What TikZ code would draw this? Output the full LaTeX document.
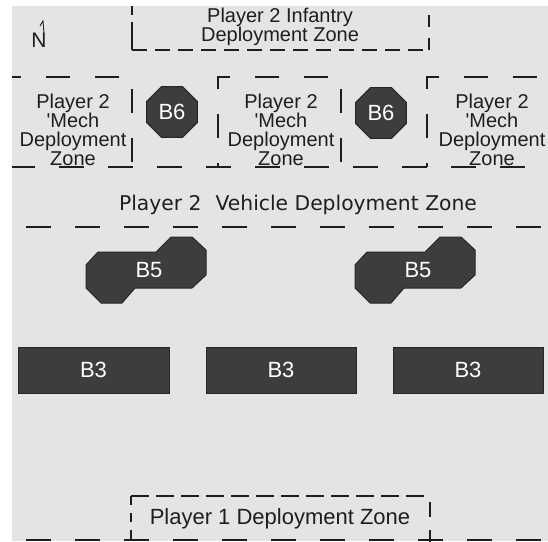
\documentclass[tikz,border=0pt]{standalone}
\usepackage{fontspec}
\setmainfont{Liberation Sans}
\newfontfamily\vehfont{DejaVu Sans}
\usetikzlibrary{shapes.geometric}
\definecolor{bg}{HTML}{E4E4E4}
\definecolor{blk}{HTML}{3D3D3D}
\definecolor{ink}{HTML}{1E1E1E}
\newcommand\sq{\XeTeXglyph\XeTeXcharglyph"27\relax}
\begin{document}
\begin{tikzpicture}[x=1pt,y=-1pt,
  rowline/.style={draw=ink, line width=1.3pt, dash pattern=on 25pt off 24pt},
  zone/.style={draw=ink, line width=1.2pt, dash pattern=on 24pt off 25pt},
  bldg/.style={fill=blk, draw=black!85, line width=1pt},
  lab/.style={text=ink, font=\fontsize{20}{19}\selectfont, align=center, inner sep=0pt},
  blab/.style={text=white, font=\fontsize{22}{22}\selectfont, inner sep=0pt}
]
\useasboundingbox (0,0) rectangle (548,541);
\fill[bg] (12,6) rectangle (548,541);
\begin{scope}
\clip (12,6) rectangle (548,541);
% row lines
\draw[rowline] (10,167) -- (560,167);
\draw[rowline] (26,227) -- (560,227);
\draw[rowline] (26,540) -- (560,540);
% mech zones
\foreach \dx in {-209,0,209}{
  \draw[zone, dash phase=20pt] (218+\dx,167) -- (218+\dx,77) -- (341+\dx,77) -- (341+\dx,167);
}
% infantry zone
\draw[ink, line width=1.2pt, dash pattern=on 28pt off 7pt] (132,50) -- (132,0);
\draw[ink, line width=1.2pt, dash pattern=on 15pt off 8pt] (132,50) -- (429,50);
\draw[ink, line width=1.2pt, dash pattern=on 12pt off 11pt] (429,50) -- (429,0);
% player 1 zone
\draw[ink, line width=1.2pt, dash pattern=on 18pt off 7pt] (131,496) -- (430,496);
\draw[ink, line width=1.2pt, dash pattern=on 9pt off 8pt] (131,496) -- (131,545);
\draw[ink, line width=1.2pt, dash pattern=on 15pt off 13pt, dash phase=22pt] (430,496) -- (430,545);
\end{scope}
% north mark
\node[text=ink, font=\fontsize{21}{21}\selectfont, inner sep=0pt] (north) at (39,40) {N};
\draw[ink, line width=0.9pt] (44,33) -- (43,21) -- (40,26);
% texts
\node[lab] (inf) at (280,27) {Player 2 Infantry\\Deployment Zone};
\node[lab] (m1) at (73,130) {Player 2\\\sq Mech\\Deployment\\Zone};
\node[lab] (m2) at (281,130) {Player 2\\\sq Mech\\Deployment\\Zone};
\node[lab] (m3) at (492,130) {Player 2\\\sq Mech\\Deployment\\Zone};
\node[text=ink, font=\vehfont\fontsize{20.3}{20.3}\selectfont, inner sep=0pt] (veh) at (298,205) {Player 2\hspace{14pt}Vehicle Deployment Zone};
\node[text=ink, font=\fontsize{22}{22}\selectfont, inner sep=0pt] (p1) at (280,519) {Player 1 Deployment Zone};
% B6
\node[bldg, regular polygon, regular polygon sides=8, minimum size=55pt, blab] (b6a) at (172,112) {B6};
\node[bldg, regular polygon, regular polygon sides=8, minimum size=55pt, blab] (b6b) at (381,113) {B6};
% B5
\foreach \dx/\nm in {0/a,269/b}{
  \draw[bldg] (86+\dx,265) -- (98+\dx,252) -- (156+\dx,252) -- (171+\dx,237) -- (192+\dx,237)
    -- (206+\dx,250) -- (206+\dx,275) -- (192+\dx,288) -- (135+\dx,288) -- (122+\dx,303)
    -- (101+\dx,303) -- (86+\dx,288) -- cycle;
  \node[blab] (b5\nm) at (149+\dx,270) {B5};
}
% B3
\node[bldg, minimum width=151pt, minimum height=46pt, blab] (b3a) at (93.5,370) {B3};
\node[bldg, minimum width=150pt, minimum height=46pt, blab] (b3b) at (281,370) {B3};
\node[bldg, minimum width=150pt, minimum height=46pt, blab] (b3c) at (468,370) {B3};
\end{tikzpicture}
\end{document}
